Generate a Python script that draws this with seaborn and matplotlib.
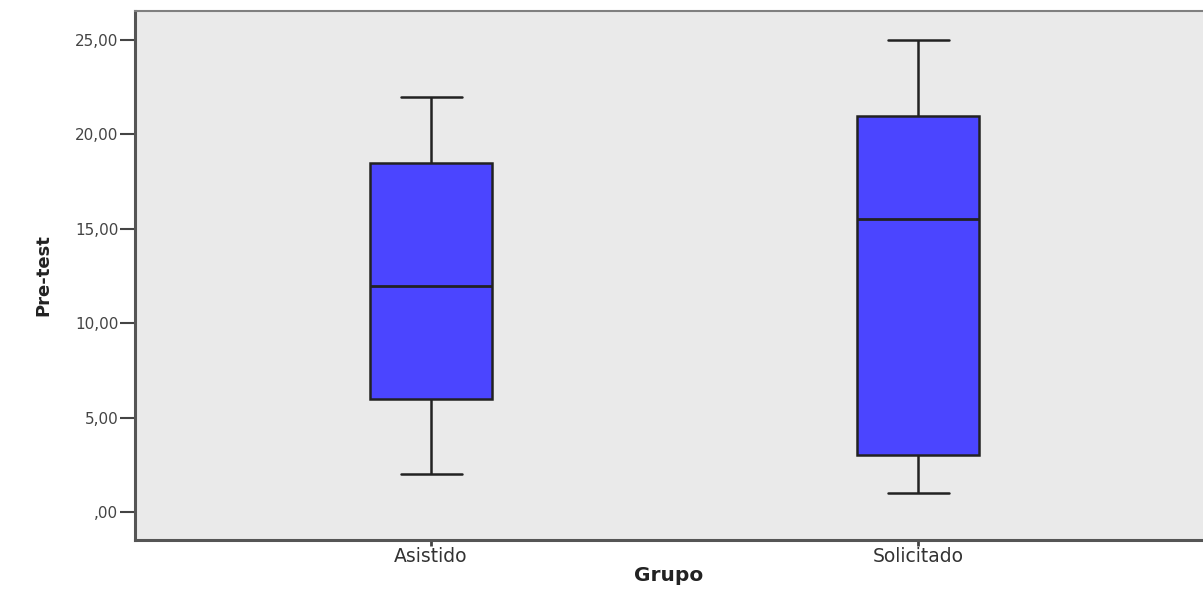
import numpy as np
import pandas as pd
import seaborn as sns
import matplotlib.pyplot as plt

# Five-number summaries (min, Q1, median, Q3, max)
asistido = [2.0, 6.0, 12.0, 18.5, 22.0]
solicitado = [1.0, 3.0, 15.5, 21.0, 25.0]
groups = ['Asistido', 'Solicitado']
yticks = [0, 5, 10, 15, 20, 25]
ytick_labels = [',00', '5,00', '10,00', '15,00', '20,00', '25,00']

df = pd.DataFrame({'Grupo': ['Asistido'] * len(asistido) + ['Solicitado'] * len(solicitado),
                   'Pre-test': asistido + solicitado})

sns.set_style('white')
plt.rcParams['font.family'] = ['DejaVu Sans']

fig = plt.figure(figsize=(12.03, 5.92), dpi=100)
ax = fig.add_axes([0.1122, 0.0878, 0.8878, 0.8936])
ax.set_facecolor('#eaeaea')

edge = '#222222'
sns.boxplot(data=df, x='Grupo', y='Pre-test', order=groups, ax=ax, width=0.25,
            color='#4b45ff', saturation=1, linewidth=1.8, linecolor=edge, whis=1.5,
            boxprops={'facecolor': '#4b45ff', 'edgecolor': edge},
            medianprops={'color': edge, 'linewidth': 2},
            whiskerprops={'color': edge}, capprops={'color': edge})

ax.set_xlim(-0.608, 1.585)
ax.set_ylim(-1.48, 26.54)
ax.set_yticks(yticks)
ax.set_yticklabels(ytick_labels, fontsize=11, color='#444444')
ax.set_xticks([0, 1])
ax.set_xticklabels(groups, fontsize=13.5, color='#333333')

for side in ['left', 'bottom']:
    ax.spines[side].set_color('#555555')
    ax.spines[side].set_linewidth(2.2)
ax.spines['right'].set_visible(False)
ax.spines['top'].set_color('#808080')
ax.spines['top'].set_linewidth(1.5)

ax.tick_params(axis='y', direction='out', length=11, width=1.5, color='#444444', pad=1, left=True)
ax.tick_params(axis='x', direction='out', length=4, width=2, color='#444444', pad=1, bottom=True)

ax.set_xlabel('Grupo', fontsize=14.5, fontweight='bold', color='#222222', labelpad=0)
ax.set_ylabel('Pre-test', fontsize=13, fontweight='bold', color='#222222', labelpad=16)

plt.savefig('out.png', dpi=100)
plt.close()
